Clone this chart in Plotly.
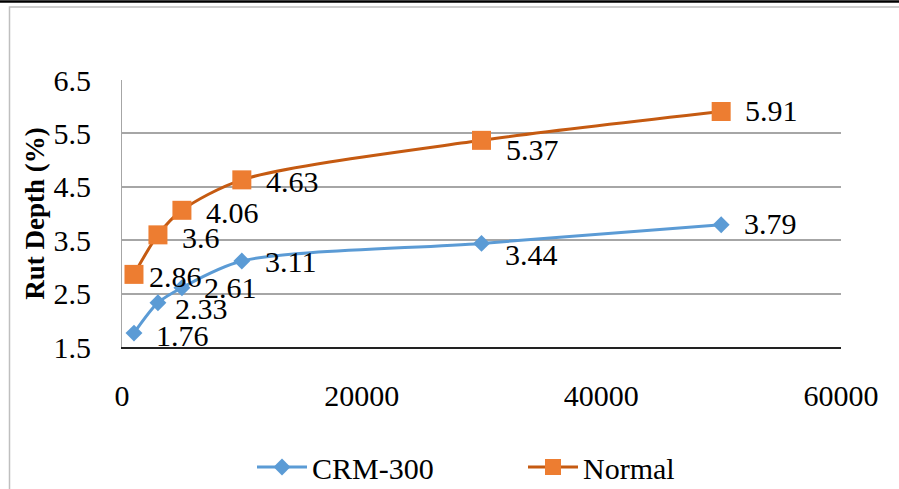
import plotly.graph_objects as go

cycles = [1000, 3000, 5000, 10000, 30000, 50000]
crm300 = [1.76, 2.33, 2.61, 3.11, 3.44, 3.79]
normal = [2.86, 3.6, 4.06, 4.63, 5.37, 5.91]

# label offsets in pixels (style only): right shift and downward shift
crm_dx = [21, 16, 21, 22, 22, 22]
crm_dy = [2, 6, 0, 0, 11, -1]
normal_dx = [14, 23, 23, 23, 23, 23]
normal_dy = [2, 3, 2, 2, 9, -1]

W, H = 899, 489
L, R, T, B = 122, 58, 80, 142
PW, PH = W - L - R, H - T - B


def px(x):
    return (x - L) / PW


def py(y):
    return (H - B - y) / PH


FONT = "Liberation Serif, Times New Roman, serif"

fig = go.Figure()
fig.add_trace(go.Scatter(
    x=cycles, y=crm300, name="CRM-300", mode="lines+markers",
    line=dict(color="#5B9BD5", width=3, shape="spline", smoothing=0.8),
    marker=dict(symbol="diamond", size=13, color="#5B9BD5"),
))
fig.add_trace(go.Scatter(
    x=cycles, y=normal, name="Normal", mode="lines+markers",
    line=dict(color="#C55A11", width=3, shape="spline", smoothing=0.8),
    marker=dict(symbol="square", size=19, color="#ED7D31"),
))

annotations = []
for xs, ys, dxs, dys in [(cycles, crm300, crm_dx, crm_dy), (cycles, normal, normal_dx, normal_dy)]:
    for xv, yv, dx, dy in zip(xs, ys, dxs, dys):
        annotations.append(dict(
            x=xv, y=yv, xref="x", yref="y", text=f"{yv:g}", showarrow=False,
            xanchor="left", yanchor="middle", xshift=dx, yshift=-dy,
            font=dict(family=FONT, size=30, color="black"), borderpad=0,
        ))

fig.update_layout(
    width=W, height=H,
    margin=dict(l=L, r=R, t=T, b=B, autoexpand=False),
    paper_bgcolor="white", plot_bgcolor="white",
    font=dict(family=FONT, size=30, color="black"),
    showlegend=True,
    annotations=annotations,
    legend=dict(orientation="h", x=px(252), y=py(467), xanchor="left", yanchor="middle",
                font=dict(family=FONT, size=30, color="black"), entrywidth=206, itemwidth=50,
                bgcolor="rgba(0,0,0,0)"),
    xaxis=dict(range=[0, 60000], tick0=0, dtick=20000, tickformat="d", showgrid=False, zeroline=False,
               showline=True, linecolor="#222222", linewidth=1.5, ticks="",
               ticklabelstandoff=21, tickfont=dict(family=FONT, size=30)),
    yaxis=dict(range=[1.5, 6.5], tick0=1.5, dtick=1, showgrid=True, gridcolor="#A6A6A6",
               gridwidth=1.5, zeroline=False, showline=True, linecolor="#A6A6A6", linewidth=1,
               ticks="", ticklabelstandoff=24, tickformat=".1f",
               tickfont=dict(family=FONT, size=30),
               title=dict(text="<b>Rut Depth (%)</b>", font=dict(family=FONT, size=27), standoff=1)),
    shapes=[
        dict(type="line", xref="paper", yref="paper", x0=px(0), x1=px(W), y0=py(1.5), y1=py(1.5),
             line=dict(color="black", width=2.5), layer="above"),
        dict(type="rect", xref="paper", yref="paper", x0=px(9.5), x1=px(W + 5), y0=py(7), y1=py(H + 5),
             line=dict(color="#BFBFBF", width=1.5), layer="below"),
    ],
)

fig.write_html("out.html", config={"displayModeBar": False},
               post_script="document.body.style.margin='0';document.body.style.overflow='hidden';")
